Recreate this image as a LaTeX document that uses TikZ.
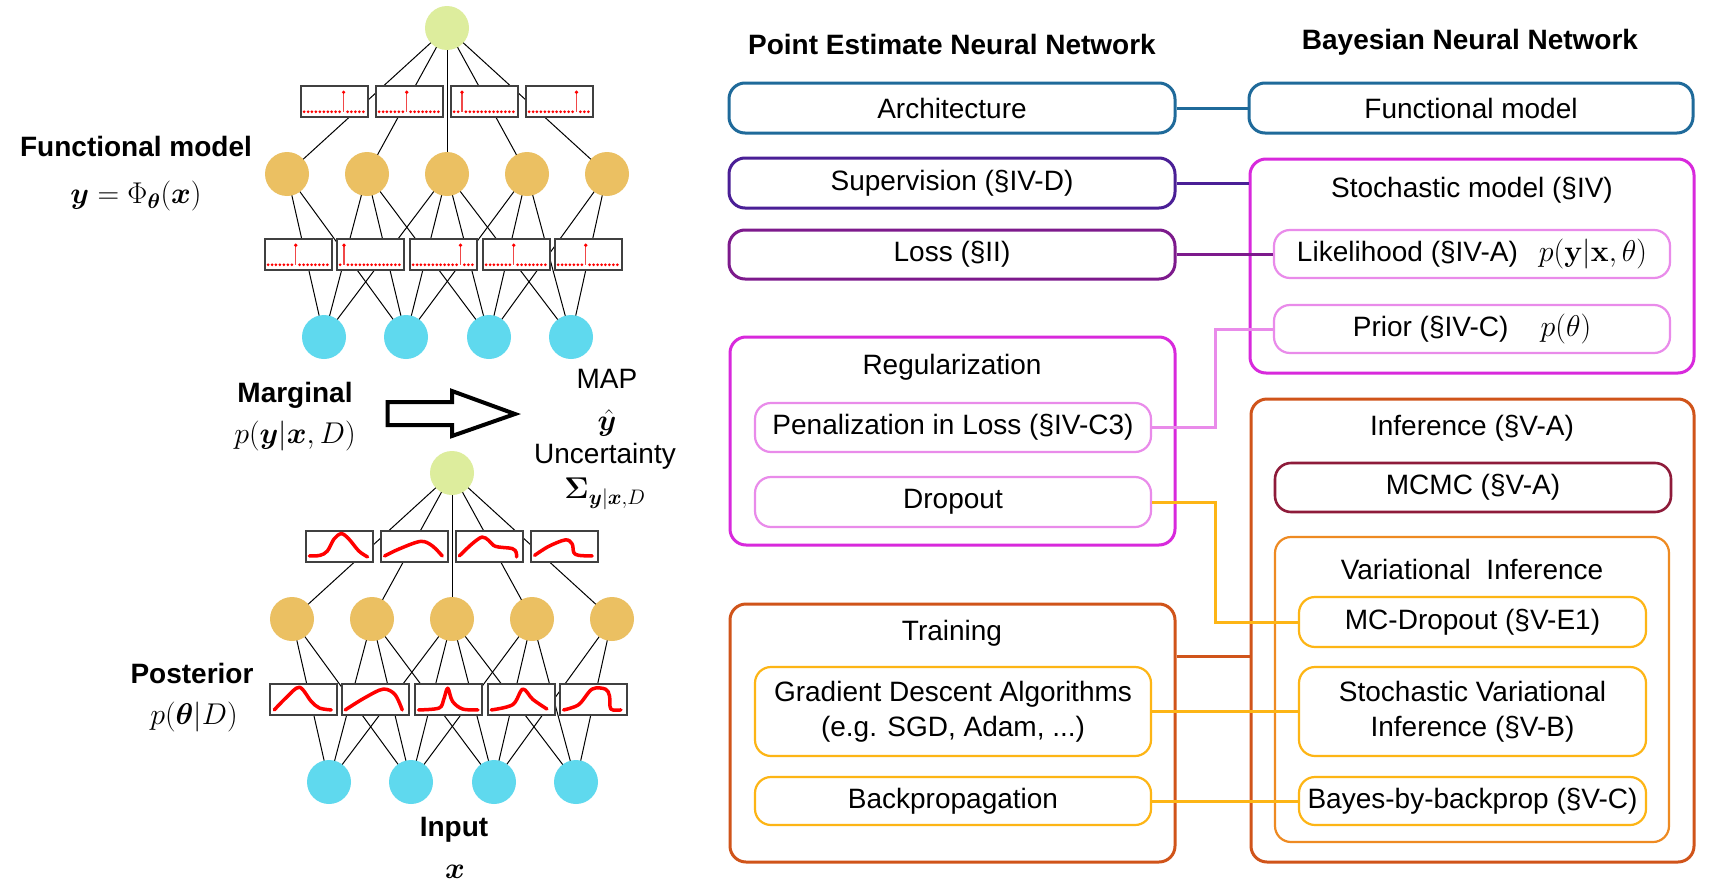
\RequirePackage{fix-cm}
\documentclass[tikz,border=0pt]{standalone}
\usepackage{amsmath,bm}
\usepackage[no-math]{fontspec}
\setmainfont{Liberation Sans}
\usetikzlibrary{calc}
\pgfdeclarelayer{back}
\pgfdeclarelayer{bg}
\pgfsetlayers{back,bg,main}
\definecolor{cblue}{HTML}{1F6A9A}
\definecolor{csup}{HTML}{4A1F96}
\definecolor{closs}{HTML}{7D1A8C}
\definecolor{cmag}{HTML}{D829DC}
\definecolor{clight}{HTML}{E98BEA}
\definecolor{cinf}{HTML}{D0541A}
\definecolor{cmcmc}{HTML}{8E1B3A}
\definecolor{cvi}{HTML}{EE8A22}
\definecolor{camber}{HTML}{FDB515}
\definecolor{cgreen}{HTML}{DDED9D}
\definecolor{corange}{HTML}{EBC062}
\definecolor{ccyan}{HTML}{5FD9EE}
\definecolor{cstem}{HTML}{F04848}
\tikzset{
  txt/.style={font=\fontsize{28}{35}\selectfont},
  btxt/.style={font=\fontsize{28}{35}\selectfont\bfseries},
  mtxt/.style={font=\fontsize{30}{35}\selectfont},
  rbox/.style={draw, rounded corners=16pt, line width=3pt, inner sep=0pt, align=center, txt},
  ibox/.style={rbox, line width=2.2pt},
  nd/.style={circle, minimum size=44pt, inner sep=0pt, draw=none},
  wbox/.style={draw=black!75, fill=white, line width=1.5pt, minimum width=67pt, minimum height=31pt, inner sep=0pt},
  net/.style={draw=black, line width=1pt},
  conn/.style={line width=3pt},
  lab/.style={inner sep=0pt},
}
\newcommand\mymath[1]{{\fontsize{30}{35}\selectfont$#1$}}
\newcommand\nnet{%
  \node[nd, fill=cgreen] (o) at (447,28) {};
  \foreach \i/\x in {1/287,2/367,3/447,4/527,5/607}
    \node[nd, fill=corange] (h\i) at (\x,174) {};
  \foreach \i/\x in {1/324,2/406,3/489,4/571}
    \node[nd, fill=ccyan] (i\i) at (\x,337) {};
  \foreach \i/\x in {1/334.5,2/409.5,3/484.5,4/559.5}
    \node[wbox] (tb\i) at (\x,101.5) {};
  \foreach \i/\x in {1/298.5,2/370.5,3/443.5,4/516.5,5/588.5}
    \node[wbox] (sb\i) at (\x,254.5) {};
  \begin{pgfonlayer}{bg}
    \foreach \i in {1,...,5} \draw[net] (o.center) -- (h\i.center);
    \foreach \a/\b in {1/1,1/2,2/1,2/2,2/3,3/1,3/2,3/3,3/4,4/2,4/3,4/4,5/3,5/4}
      \draw[net] (h\a.center) -- (i\b.center);
  \end{pgfonlayer}
}
\newcommand\stem[2]{%
  \begin{scope}[shift={(#1.north west)}]
    \foreach \k in {0,...,15}{\ifnum\k=#2\relax\else\fill[red] (3.8+\k*3.95,26.5) circle (1.5pt);\fi}
    \draw[cstem, line width=1.1pt] (3.8+#2*3.95,26.5) -- (3.8+#2*3.95,7);
    \fill[red] (3.8+#2*3.95,7) circle (1.8pt);
  \end{scope}}
\newcommand\dcurve[2]{%
  \begin{scope}[shift={(#1.north west)}, x=67pt, y=-31pt]
    \draw[red, line width=3.5pt, line cap=round, line join=round] plot[smooth, tension=0.55] coordinates {#2};
  \end{scope}}
\begin{document}
\begin{tikzpicture}[x=1pt, y=-1pt, every node/.style={txt}]
\begin{pgfonlayer}{back}
\fill[white] (0,0) rectangle (1722,894);
\end{pgfonlayer}
\useasboundingbox (0,0) rectangle (1722,894);

% ---------------- networks ----------------
\begin{scope}[name prefix=t-]
  \nnet
\end{scope}
\begin{scope}[shift={(5,445)}, name prefix=b-]
  \nnet
\end{scope}

\stem{t-tb1}{10}
\stem{t-tb2}{7}
\stem{t-tb3}{2}
\stem{t-tb4}{12}
\stem{t-sb1}{7}
\stem{t-sb2}{1}
\stem{t-sb3}{12}
\stem{t-sb4}{7}
\stem{t-sb5}{7}

\dcurve{b-tb1}{(0.06,0.83) (0.22,0.81) (0.33,0.67) (0.43,0.28) (0.54,0.11) (0.65,0.28) (0.8,0.67) (0.93,0.86)}
\dcurve{b-tb2}{(0.065,0.83) (0.275,0.61) (0.6,0.36) (0.775,0.5) (0.925,0.83)}
\dcurve{b-tb3}{(0.06,0.83) (0.25,0.44) (0.4,0.22) (0.5,0.33) (0.6,0.52) (0.85,0.59) (0.91,0.72) (0.915,0.86)}
\dcurve{b-tb4}{(0.065,0.81) (0.275,0.52) (0.525,0.31) (0.625,0.44) (0.65,0.72) (0.725,0.81) (0.925,0.83)}
\dcurve{b-sb1}{(0.075,0.86) (0.25,0.47) (0.45,0.13) (0.625,0.58) (0.75,0.8) (0.925,0.86)}
\dcurve{b-sb2}{(0.06,0.86) (0.35,0.47) (0.625,0.19) (0.8,0.36) (0.91,0.86)}
\dcurve{b-sb3}{(0.065,0.86) (0.37,0.8) (0.44,0.52) (0.5,0.16) (0.57,0.58) (0.72,0.83) (0.95,0.86)}
\dcurve{b-sb4}{(0.06,0.86) (0.38,0.69) (0.53,0.19) (0.68,0.52) (0.89,0.83)}
\dcurve{b-sb5}{(0.065,0.86) (0.29,0.69) (0.49,0.19) (0.69,0.19) (0.75,0.41) (0.77,0.83) (0.92,0.86)}

% ---------------- left labels ----------------
\node[btxt, lab] (lfm) at (136,146) {Functional model};
\node[mtxt, lab] (lphi) at (136,196) {$\bm{y} = \Phi_{\bm{\theta}}(\bm{x})$};
\node[btxt, lab] (lmarg) at (295,395) {Marginal};
\node[mtxt, lab] (lpm) at (295,436) {$p(\bm{y}|\bm{x},D)$};
\node[lab] (lmap) at (607,379) {MAP};
\node[mtxt, lab] (lyhat) at (607,423) {$\hat{\bm{y}}$};
\node[lab] (lunc) at (605,456) {Uncertainty};
\node[mtxt, lab] (lsig) at (605,494) {$\bm{\Sigma}_{\bm{y}|\bm{x},D}$};
\node[btxt, lab] (lpost) at (192,673) {Posterior};
\node[mtxt, lab] (lpp) at (194,717) {$p(\bm{\theta}|D)$};
\node[btxt, lab] (lin) at (454,830) {Input};
\node[mtxt, lab] (lx) at (455,872) {$\bm{x}$};

\draw[line width=4pt, fill=white, line join=miter] (387.5,402) -- (452,402) -- (452,391) -- (515,414) -- (452,436) -- (452,425) -- (387.5,425) -- cycle;

% ---------------- right: headers ----------------
\node[btxt] (hpe) at (952,44) {Point Estimate Neural Network};
\node[btxt] (hbnn) at (1470,42) {Bayesian Neural Network};

% ---------------- outer boxes ----------------
\node[rbox, draw=cblue, minimum width=446pt, minimum height=50pt] (arch) at (952,108) {Architecture};
\node[rbox, draw=cblue, minimum width=444pt, minimum height=50pt] (func) at (1471,108) {Functional model};
\node[rbox, draw=csup, minimum width=446pt, minimum height=50pt] (sup) at (952,183) {Supervision (§IV-D)};
\node[rbox, draw=closs, minimum width=446pt, minimum height=49pt] (loss) at (952,254.5) {Loss (§II)};
\node[rbox, draw=cmag, minimum width=444pt, minimum height=214pt] (stoch) at (1472,266) {};
\node (tstoch) at (1472,190) {Stochastic model (§IV)};
\node[rbox, draw=cmag, minimum width=445pt, minimum height=208pt] (reg) at (952.5,441) {};
\node (treg) at (952,367) {Regularization};
\node[rbox, draw=cinf, minimum width=443pt, minimum height=463pt] (inf) at (1472.5,630.5) {};
\node (tinf) at (1472,428) {Inference (§V-A)};
\node[rbox, draw=cinf, minimum width=445pt, minimum height=258pt] (train) at (952.5,733) {};
\node (ttrain) at (952,633) {Training};
\node[ibox, draw=cvi, minimum width=394pt, minimum height=305pt] (vi) at (1472,689.5) {};
\node (tvi) at (1472,569) {Variational\ \ Inference};

% ---------------- inner boxes ----------------
\node[ibox, draw=clight, minimum width=396pt, minimum height=48pt] (lik) at (1472,254) {Likelihood (§IV-A)\hspace{0.75em}\mymath{p(\mathbf{y}|\mathbf{x},\theta)}};
\node[ibox, draw=clight, minimum width=396pt, minimum height=48pt] (prior) at (1472,329) {Prior (§IV-C)\hspace{1.15em}\mymath{p(\theta)}};
\node[ibox, draw=clight, minimum width=396pt, minimum height=49pt] (pen) at (953,427.5) {Penalization in Loss (§IV-C3)};
\node[ibox, draw=clight, minimum width=396pt, minimum height=50pt] (drop) at (953,502) {Dropout};
\node[ibox, line width=2.6pt, draw=cmcmc, minimum width=396pt, minimum height=49pt] (mcmc) at (1473,487.5) {MCMC (§V-A)};
\node[ibox, draw=camber, minimum width=347pt, minimum height=50pt] (mcd) at (1472.5,622) {MC-Dropout (§V-E1)};
\node[ibox, draw=camber, minimum width=347pt, minimum height=89pt] (svi) at (1472.5,711.5) {Stochastic Variational\\Inference (§V-B)};
\node[ibox, draw=camber, minimum width=347pt, minimum height=48pt] (bbb) at (1472.5,801) {Bayes-by-backprop (§V-C)};
\node[ibox, draw=camber, minimum width=396pt, minimum height=89pt] (grad) at (953,711.5) {Gradient Descent Algorithms\\(e.g. SGD, Adam, ...)};
\node[ibox, draw=camber, minimum width=396pt, minimum height=48pt] (bp) at (953,801) {Backpropagation};

% ---------------- connectors ----------------
\draw[conn, cblue] (arch.east) -- (func.west);
\draw[conn, csup] (sup.east) -- (sup.east -| stoch.west);
\draw[conn, closs] (loss.east) -- (loss.east -| lik.west);
\draw[conn, clight] (pen.east) -- ++(63,0) |- (prior.west);
\draw[conn, camber] (drop.east) -- ++(63,0) |- (mcd.west);
\path ($(train.north east)+(0,54)$) coordinate (tc);
\draw[conn, cinf] (tc) -- (tc -| inf.west);
\draw[conn, camber] (grad.east) -- (svi.west);
\draw[conn, camber] (bp.east) -- (bbb.west);
\end{tikzpicture}
\end{document}
